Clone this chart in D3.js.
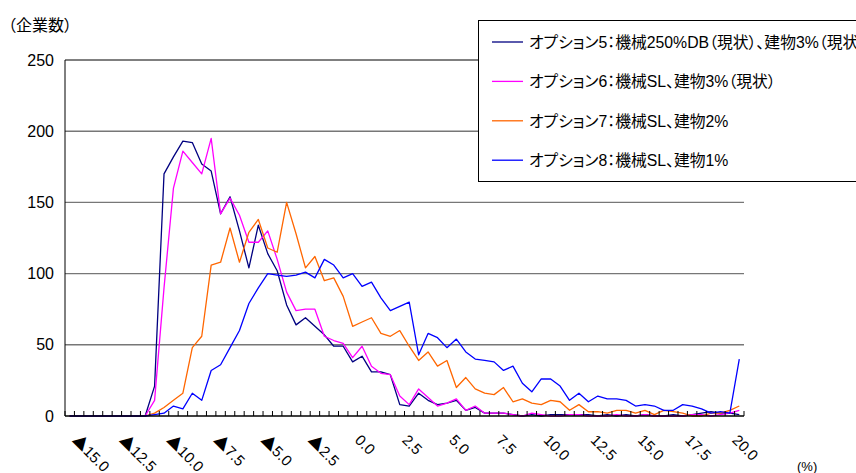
<!DOCTYPE html>
<html>
<head>
<meta charset="utf-8">
<script src="https://cdn.jsdelivr.net/npm/d3@7"></script>
<style>
  body { margin: 0; background: #fff; }
  svg { display: block; font-family: "Liberation Sans", "Noto Sans CJK JP", sans-serif; }
  .jp { font-feature-settings: "palt"; }
</style>
</head>
<body>
<div id="chart-container"></div>
<script>
// categories (%), the first bin sits left of -15.0
const categories = [-15.5, -15, -14.5, -14, -13.5, -13, -12.5, -12, -11.5, -11, -10.5, -10, -9.5, -9, -8.5, -8,
  -7.5, -7, -6.5, -6, -5.5, -5, -4.5, -4, -3.5, -3, -2.5, -2, -1.5, -1, -0.5, 0, 0.5, 1, 1.5, 2, 2.5, 3, 3.5,
  4, 4.5, 5, 5.5, 6, 6.5, 7, 7.5, 8, 8.5, 9, 9.5, 10, 10.5, 11, 11.5, 12, 12.5, 13, 13.5, 14, 14.5, 15, 15.5,
  16, 16.5, 17, 17.5, 18, 18.5, 19, 19.5, 20];

const xTickValues = [-15, -12.5, -10, -7.5, -5, -2.5, 0, 2.5, 5, 7.5, 10, 12.5, 15, 17.5, 20];
const xTickLabels = ["▲15.0", "▲12.5", "▲10.0", "▲7.5", "▲5.0", "▲2.5", "0.0", "2.5", "5.0", "7.5",
  "10.0", "12.5", "15.0", "17.5", "20.0"];
const yTicks = [0, 50, 100, 150, 200, 250];

const seriesNames = [
  "オプション5：機械250%DB（現状）、建物3%（現状）",
  "オプション6：機械SL、建物3%（現状）",
  "オプション7：機械SL、建物2%",
  "オプション8：機械SL、建物1%"
];
const seriesColors = ["#000080", "#ff00ff", "#ff6600", "#0000ff"];

const opt5 = [0, 0, 0, 0, 0, 0, 0, 0, 0,
  21, 170, 182, 193, 192, 177, 172, 142, 154, 130,
  104, 134, 114, 102, 78, 64, 69, 63, 57, 49,
  49, 38, 42, 31, 31, 29, 8, 7, 16, 11,
  8, 9, 11, 4, 6, 2, 2, 2, 1, 0,
  1, 0, 1, 1, 1, 1, 1, 0, 1, 0,
  1, 0, 1, 0, 0, 1, 0, 1, 2, 3,
  2, 2, 1];
const opt6 = [0, 0, 0, 0, 0, 0, 0, 0, 0,
  11, 90, 160, 186, 178, 170, 195, 142, 153, 141,
  122, 122, 130, 110, 87, 74, 75, 75, 56, 53,
  51, 41, 49, 35, 30, 29, 14, 8, 19, 13,
  7, 9, 12, 4, 7, 2, 2, 2, 1, 0,
  2, 1, 0, 0, 1, 1, 0, 0, 0, 1,
  0, 0, 1, 0, 0, 0, 0, 1, 1, 0,
  1, 2, 4];
const opt7 = [0, 0, 0, 0, 0, 0, 0, 0, 0,
  2, 6, 11, 16, 48, 56, 106, 108, 132, 108,
  129, 138, 118, 115, 150, 128, 104, 112, 95, 97,
  84, 63, 66, 69, 58, 56, 60, 49, 39, 45,
  35, 39, 20, 27, 19, 16, 15, 20, 10, 12,
  9, 8, 11, 10, 4, 8, 3, 3, 2, 4,
  4, 2, 4, 1, 4, 3, 2, 0, 0, 2,
  2, 4, 7];
const opt8 = [0, 0, 0, 0, 0, 0, 0, 0, 0,
  1, 2, 7, 5, 16, 11, 32, 36, 48, 60,
  79, 90, 100, 99, 98, 99, 101, 97, 110, 106,
  97, 100, 91, 94, 83, 74, 77, 80, 43, 58,
  55, 48, 54, 45, 40, 39, 38, 32, 35, 23,
  17, 26, 26, 21, 11, 16, 10, 14, 12, 12,
  11, 7, 8, 7, 4, 4, 8, 7, 5, 2,
  3, 2, 40];

const seriesValues = [opt5, opt6, opt7, opt8];

const width = 856;
const height = 473;
const marginTop = 60;
const marginRight = 112;
const marginBottom = 57;
const marginLeft = 65;

const x = d3.scaleBand()
    .domain(categories)
    .range([marginLeft, width - marginRight])
    .padding(0);

const y = d3.scaleLinear()
    .domain([0, 250])
    .range([height - marginBottom, marginTop]);

const cx = c => x(c) + x.bandwidth() / 2;

const svg = d3.select("#chart-container").append("svg")
    .attr("width", width)
    .attr("height", height)
    .attr("viewBox", [0, 0, width, height]);

// horizontal gridlines
svg.append("g")
  .selectAll("line")
  .data(yTicks.filter(d => d > 0 && d < 250))
  .join("line")
    .attr("x1", marginLeft)
    .attr("x2", width - marginRight)
    .attr("y1", d => y(d))
    .attr("y2", d => y(d))
    .attr("stroke", "#777")
    .attr("stroke-width", 1.4);

// top line and left axis line
svg.append("line")
    .attr("x1", marginLeft).attr("x2", width - marginRight)
    .attr("y1", y(250)).attr("y2", y(250))
    .attr("stroke", "#000").attr("stroke-width", 1);
svg.append("line")
    .attr("x1", marginLeft).attr("x2", marginLeft)
    .attr("y1", y(250)).attr("y2", y(0))
    .attr("stroke", "#000").attr("stroke-width", 1);

// y axis labels
svg.append("g")
    .attr("transform", `translate(${marginLeft},0)`)
    .call(d3.axisLeft(y).tickValues(yTicks).tickSize(0).tickPadding(11))
    .call(g => g.select(".domain").remove())
    .call(g => g.selectAll("text")
        .attr("font-family", "Liberation Sans, Arial, sans-serif")
        .attr("font-size", 16)
        .attr("fill", "#000"));

// series lines
const line = d3.line()
    .x((d, i) => cx(categories[i]))
    .y(d => y(d));

svg.append("g")
  .selectAll("path")
  .data(seriesValues)
  .join("path")
    .attr("fill", "none")
    .attr("stroke", (d, i) => seriesColors[i])
    .attr("stroke-width", 1.3)
    .attr("stroke-linejoin", "round")
    .attr("d", line);

// bottom axis with tick marks at category boundaries
const bounds = categories.map(c => x(c)).concat([x.range()[1]]);
svg.append("g")
  .selectAll("line")
  .data(bounds)
  .join("line")
    .attr("x1", d => d).attr("x2", d => d)
    .attr("y1", y(0)).attr("y2", y(0) - 5)
    .attr("stroke", "#000").attr("stroke-width", 1);
svg.append("line")
    .attr("x1", marginLeft).attr("x2", width - marginRight)
    .attr("y1", y(0)).attr("y2", y(0))
    .attr("stroke", "#000").attr("stroke-width", 1.5);

// rotated category labels, the ▲ marks negatives
const xLabels = svg.append("g")
  .selectAll("text")
  .data(xTickValues)
  .join("text")
    .attr("transform", d => `translate(${cx(d) - 8},${y(0) + 25}) rotate(45)`)
    .attr("font-size", 15)
    .attr("fill", "#000");
xLabels.each(function(d, i) {
  const label = xTickLabels[i];
  const t = d3.select(this);
  if (label.startsWith("▲")) {
    t.append("tspan")
        .attr("font-family", "Noto Sans CJK JP")
        .attr("font-size", 16)
        .text("▲");
    t.append("tspan").text(label.slice(1));
  } else {
    t.text(label);
  }
});

// axis titles
svg.append("text")
    .attr("class", "jp")
    .attr("x", 8)
    .attr("y", 31)
    .attr("font-size", 16)
    .text("（企業数）");
svg.append("text")
    .attr("x", 797)
    .attr("y", 471)
    .attr("font-size", 13)
    .text("(%)");

// legend
const legend = svg.append("g");
legend.append("rect")
    .attr("x", 478.5)
    .attr("y", 20.5)
    .attr("width", 420)
    .attr("height", 161)
    .attr("fill", "#fff")
    .attr("stroke", "#000");

const rows = legend.selectAll("g.row")
  .data(seriesNames)
  .join("g")
    .attr("class", "row")
    .attr("transform", (d, i) => `translate(0,${42 + i * 39.4})`);
rows.append("line")
    .attr("x1", 492).attr("x2", 523)
    .attr("stroke", (d, i) => seriesColors[i])
    .attr("stroke-width", 1.3);
rows.append("text")
    .attr("class", "jp")
    .attr("x", 529)
    .attr("dy", "0.36em")
    .attr("font-size", 15.8)
    .text(d => d);
</script>
</body>
</html>
